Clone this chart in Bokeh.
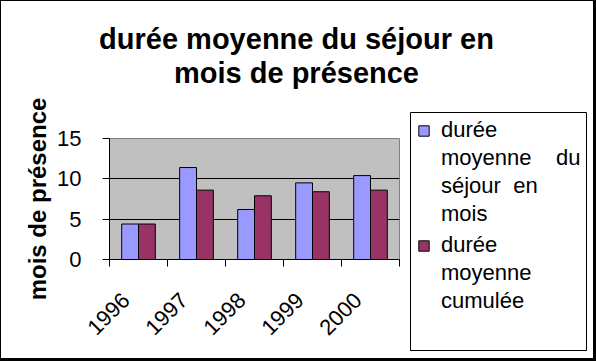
import math
from bokeh.plotting import figure
from bokeh.layouts import column, row
from bokeh.models import (ColumnDataSource, FixedTicker, Legend, LegendItem, Label, Range1d)
from bokeh.transform import dodge
from bokeh.embed import file_html
from bokeh.resources import INLINE

years = ["1996", "1997", "1998", "1999", "2000"]
duree_sejour = [4.4, 11.4, 6.2, 9.5, 10.4]
duree_cumulee = [4.4, 8.6, 7.9, 8.4, 8.6]
y_ticks = [0, 5, 10, 15]
title_lines = ["durée moyenne du séjour en", "mois de présence"]
y_label = "mois de présence"
legend_a = ["durée", "moyenne    du", "séjour  en", "mois"]
legend_b = ["durée", "moyenne", "cumulée"]

FONT = "Liberation Sans"
BLUE = "#9999FF"
PLUM = "#993366"
LABEL_SHIFT = -0.22   # horizontal shift of the slanted year labels (style)

xpos = [i + 0.5 for i in range(len(years))]
src = ColumnDataSource(dict(x=xpos, a=duree_sejour, b=duree_cumulee))


def bare(fig):
    fig.axis.visible = False
    fig.grid.visible = False
    fig.background_fill_color = None
    fig.border_fill_color = None
    fig.frame_align = False


# ---------------- title strip ----------------
t = figure(width=596, height=93, output_backend="svg", toolbar_location=None,
           x_range=Range1d(0, 1), y_range=Range1d(0, 1),
           min_border_left=0, min_border_right=0, min_border_top=0, min_border_bottom=0)
bare(t)
t.outline_line_color = None
for i, line in enumerate(title_lines):
    t.add_layout(Label(x=296, y=55 - 34 * i, x_units="screen", y_units="screen",
                       text=line, text_align="center", text_baseline="alphabetic",
                       text_font=FONT, text_font_size="29px", text_font_style="bold",
                       text_color="black"))

# ---------------- bar chart ----------------
p = figure(width=405, height=268, output_backend="svg", toolbar_location=None,
           x_range=Range1d(0, len(years)), y_range=Range1d(0, 15),
           min_border_left=109, min_border_right=6,
           min_border_top=45, min_border_bottom=102)
p.frame_align = False
p.background_fill_color = "#C0C0C0"
p.border_fill_color = None
p.outline_line_color = "#808080"

r1 = p.vbar(x=dodge("x", -0.145, range=p.x_range), top="a", width=0.29,
            source=src, fill_color=BLUE, line_color="black", line_width=1)
r2 = p.vbar(x=dodge("x", 0.145, range=p.x_range), top="b", width=0.29,
            source=src, fill_color=PLUM, line_color="black", line_width=1)

label_ticks = [x + LABEL_SHIFT for x in xpos]
xa = p.xaxis[0]
xa.ticker = FixedTicker(ticks=label_ticks, minor_ticks=list(range(len(years) + 1)))
xa.major_label_overrides = {x: y for x, y in zip(label_ticks, years)}
xa.major_tick_out = 0
xa.major_tick_in = 0
xa.minor_tick_out = 7
xa.minor_tick_in = 0
xa.minor_tick_line_color = "black"
xa.axis_line_color = "black"
xa.major_label_orientation = math.pi / 4
xa.major_label_text_font = FONT
xa.major_label_text_font_size = "22px"
xa.major_label_text_color = "black"
xa.major_label_standoff = 30

ya = p.yaxis[0]
ya.ticker = FixedTicker(ticks=y_ticks)
ya.major_tick_out = 7
ya.major_tick_in = 0
ya.minor_tick_out = 0
ya.minor_tick_in = 0
ya.major_tick_line_color = "black"
ya.axis_line_color = "black"
ya.major_label_text_font = FONT
ya.major_label_text_font_size = "22px"
ya.major_label_text_color = "black"
ya.major_label_standoff = 21
ya.axis_label = y_label
ya.axis_label_text_font = FONT
ya.axis_label_text_font_size = "24px"
ya.axis_label_text_font_style = "bold"
ya.axis_label_text_color = "black"
ya.axis_label_standoff = 3

p.xgrid.visible = False
p.ygrid.ticker = FixedTicker(ticks=y_ticks)
p.ygrid.grid_line_color = "black"

# ---------------- legend panel ----------------
lg = figure(width=191, height=268, output_backend="svg", toolbar_location=None,
            x_range=Range1d(0, 1), y_range=Range1d(0, 1),
            min_border_left=5, min_border_right=10, min_border_top=19, min_border_bottom=11)
bare(lg)
lg.background_fill_color = "white"
lg.outline_line_color = "black"
# swatch renderers for the legend only (kept outside the visible range)
sw1 = lg.vbar(x=[-1], top=[0], width=0.1, fill_color=BLUE, line_color="black")
sw2 = lg.vbar(x=[-1], top=[0], width=0.1, fill_color=PLUM, line_color="black")


def make_legend(lines, rend, loc):
    items = [LegendItem(label=lines[0], renderers=[rend])]
    items += [LegendItem(label=s, renderers=[]) for s in lines[1:]]
    return Legend(items=items, location=loc, label_text_font=FONT,
                  label_text_font_size="22px", label_text_color="black",
                  glyph_width=13, glyph_height=13, label_height=26, spacing=2,
                  label_standoff=11, padding=0, margin=0,
                  border_line_color=None, background_fill_alpha=0)


lg.add_layout(make_legend(legend_a, sw1, (7, 123)))
lg.add_layout(make_legend(legend_b, sw2, (7, 36)))

layout = column(t, row(p, lg, spacing=0), spacing=0)
layout.styles = {"background-color": "white",
                 "box-shadow": "inset 1px 1px 0 0 black, inset -3px -3px 0 0 black"}

open("out.html", "w").write(file_html(layout, INLINE))
